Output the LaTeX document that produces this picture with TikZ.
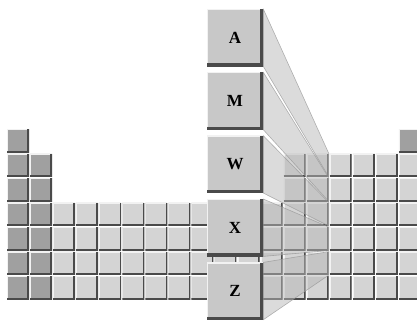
\documentclass[tikz,border=0pt]{standalone}
\usepackage{fontspec}
\setmainfont{Liberation Serif}
\usetikzlibrary{positioning}
\definecolor{TileDark}{HTML}{A0A0A0}
\definecolor{TileLight}{HTML}{D4D4D4}
\definecolor{TileEdge}{HTML}{4A4A4A}
\definecolor{BoxFill}{HTML}{C8C8C8}
\definecolor{PanelFill}{HTML}{B8B8B8}
\definecolor{PanelEdge}{HTML}{959595}
\pgfdeclarelayer{grid}
\pgfdeclarelayer{panels}
\pgfsetlayers{grid,panels,main}
\tikzset{
  bevel/.style={path picture={
    \draw[white!70!TileLight, line width=2pt] (path picture bounding box.south west) -- (path picture bounding box.north west) -- (path picture bounding box.north east);
    \draw[TileEdge, line width=#1] (path picture bounding box.south west) -- (path picture bounding box.south east) -- (path picture bounding box.north east);
  }},
  tile/.style={rectangle, inner sep=0pt, minimum width=22pt, minimum height=23pt,
    fill=#1, bevel=3.4pt},
  tile/.default=TileLight,
  elem/.style={rectangle, inner sep=0pt, minimum width=56pt, minimum height=57pt,
    fill=BoxFill, bevel=5.5pt, font=\fontsize{17}{17}\selectfont\bfseries},
  panel/.style={fill=PanelFill, fill opacity=0.5, draw=PanelEdge, draw opacity=0.7,
    line width=0.6pt, line join=round},
}

\begin{document}
\begin{tikzpicture}[x=1pt, y=-1pt]
\useasboundingbox (0,0) rectangle (417,322);

% table of small tiles, row r / column c
\begin{pgfonlayer}{grid}
\foreach \r in {1,...,7}
  \node[tile=TileDark] (c-\r-1) at ({18+(1-1)*23.05},{140.8+(\r-1)*24.5}) {};
\foreach \r in {2,...,7}
  \node[tile=TileDark] (c-\r-2) at ({18+(2-1)*23.05},{140.8+(\r-1)*24.5}) {};
\foreach \r in {4,...,7}
  \foreach \c in {3,...,12}
    \node[tile] (c-\r-\c) at ({18+(\c-1)*23.05},{140.8+(\r-1)*24.5}) {};
\foreach \r in {2,...,7}
  \foreach \c in {13,...,18}
    \node[tile] (c-\r-\c) at ({18+(\c-1)*23.05},{140.8+(\r-1)*24.5}) {};
\node[tile=TileDark] (c-1-18) at ({18+17*23.05},140.8) {};
\end{pgfonlayer}

% pulled out column
\node[elem] (a) at (235,37.5) {A};
\node[elem, below=6pt of a] (m) {M};
\node[elem, below=6pt of m] (w) {W};
\node[elem, below=6pt of w] (x) {X};
\node[elem, below=6pt of x] (z) {Z};

\begin{pgfonlayer}{panels}
\foreach \b/\r in {a/2, m/3, w/4, x/5, z/6}
  \draw[panel] (\b.north east) -- (c-\r-14.north east) -- (c-\r-14.south east)
    -- (\b.south east) -- cycle;
\end{pgfonlayer}

\end{tikzpicture}
\end{document}
